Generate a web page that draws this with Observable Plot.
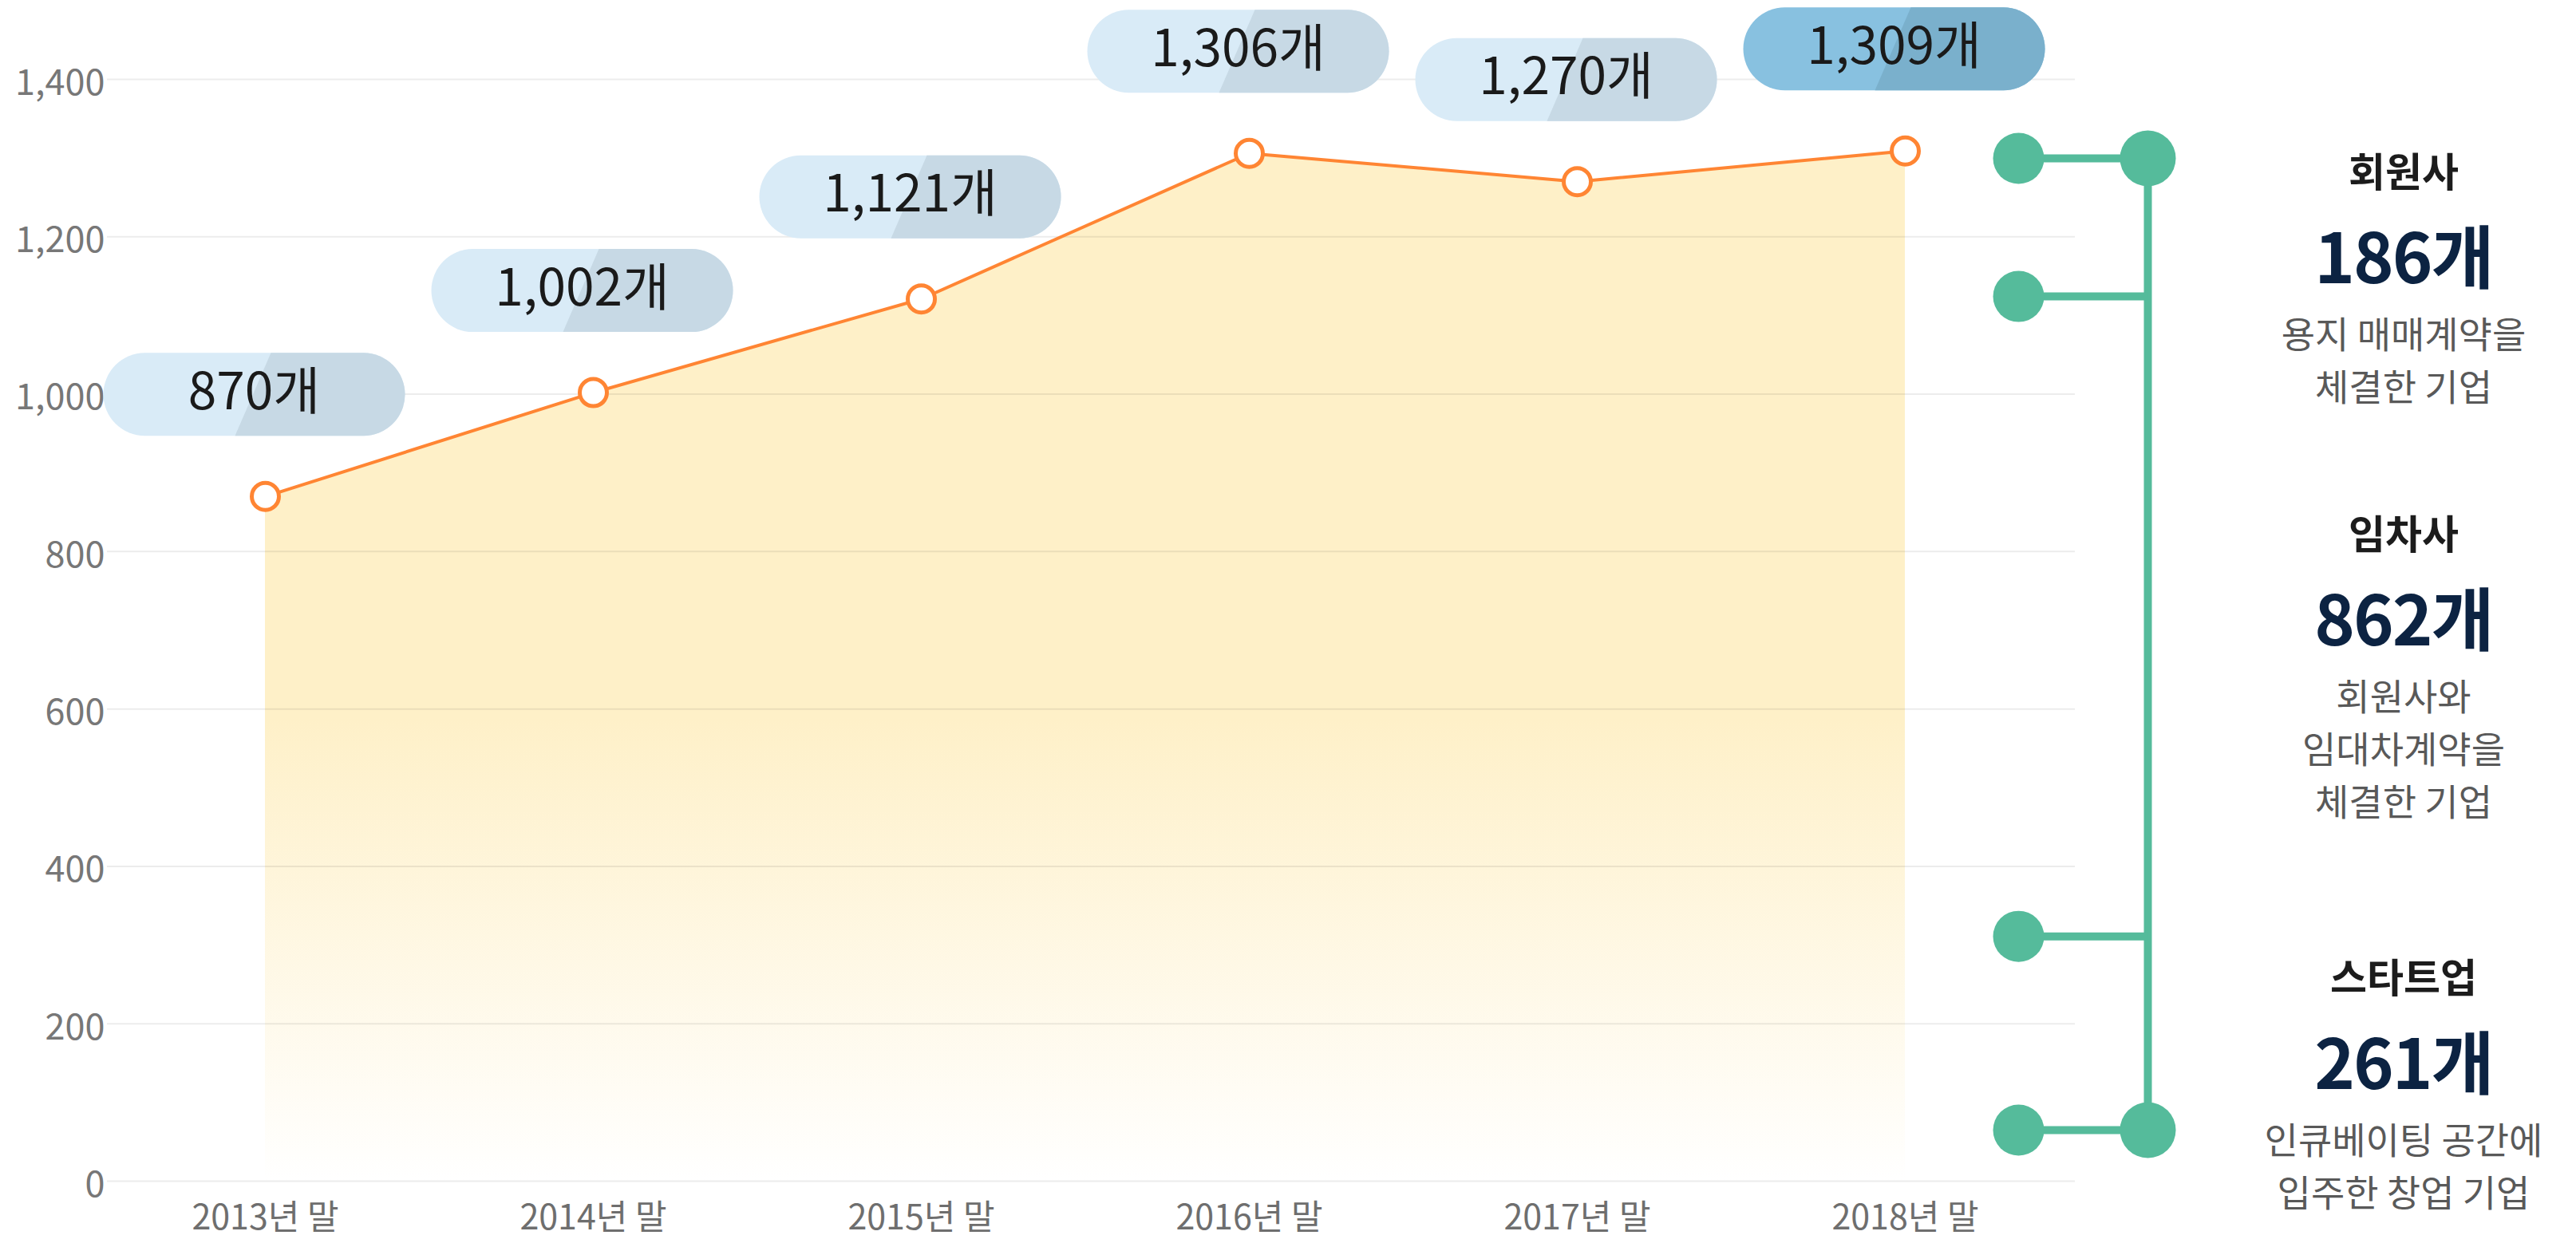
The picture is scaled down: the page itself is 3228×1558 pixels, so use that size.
<!DOCTYPE html>
<html><head><meta charset="utf-8">
<script src="https://cdn.jsdelivr.net/npm/d3@7"></script>
<script src="https://cdn.jsdelivr.net/npm/@observablehq/plot@0.6"></script>
<style>
html,body{margin:0;padding:0;background:#fff;}
#wrap{position:relative;width:3228px;height:1558px;font-family:"Noto Sans CJK KR","Noto Sans",sans-serif;overflow:hidden;}
#wrap svg{position:absolute;left:0;top:0;}
.blk{position:absolute;left:2812px;width:400px;text-align:center;transform:translateY(-50%);}
.t{font-size:50px;font-weight:700;color:#1c1c1c;line-height:82px;}
.n{font-size:86px;font-weight:700;color:#0c2342;line-height:130px;letter-spacing:-2px;}
.d{font-size:46px;color:#595959;line-height:66px;}
</style></head><body><div id="wrap"></div>
<script>
// ---- data ----
const years = ["2013년 말","2014년 말","2015년 말","2016년 말","2017년 말","2018년 말"];
const counts = [870, 1002, 1121, 1306, 1270, 1309];
const yTicks = [0, 200, 400, 600, 800, 1000, 1200, 1400];
const highlightYear = "2018년 말";
const segmentNames = ["회원사", "임차사", "스타트업"];
const segmentValues = [186, 862, 261];
const segmentDescs = [["용지 매매계약을", "체결한 기업"], ["회원사와", "임대차계약을", "체결한 기업"], ["인큐베이팅 공간에", "입주한 창업 기업"]];

// ---- build ----
const data = years.map((year, i) => ({year, count: counts[i]}));
const fmt = d3.format(",");
const ORANGE = "#ff8533", GREEN = "#55bb9b";
const FONT = '"Noto Sans CJK KR","Noto Sans",sans-serif';

const PW = 378, PH = 104;
const pillFull = {draw(ctx) {
  const w = PW / 2, h = PH / 2;
  ctx.moveTo(-w + h, -h); ctx.lineTo(w - h, -h);
  ctx.arc(w - h, 0, h, -Math.PI / 2, Math.PI / 2);
  ctx.lineTo(-w + h, h);
  ctx.arc(-w + h, 0, h, Math.PI / 2, 3 * Math.PI / 2);
  ctx.closePath();
}};
const pillRight = {draw(ctx) {
  const w = PW / 2, h = PH / 2;
  ctx.moveTo(21, -h); ctx.lineTo(w - h, -h);
  ctx.arc(w - h, 0, h, -Math.PI / 2, Math.PI / 2);
  ctx.lineTo(-24, h);
  ctx.closePath();
}};
const isHi = d => d.year === highlightYear;
const notHi = d => d.year !== highlightYear;
const PDY = -128, PDX = -14;

const main = Plot.plot({
  width: 3228, height: 1558,
  marginLeft: 134, marginRight: 628, marginTop: 99, marginBottom: 78,
  x: {type: "point", domain: years, padding: 0, insetLeft: 196, insetRight: 212},
  y: {domain: [0, 1400]},
  style: {fontFamily: FONT, background: "transparent", maxWidth: "none", overflow: "visible"},
  marks: [
    Plot.areaY(data, {x: "year", y: "count", fill: "url(#areaFill)"}),
    Plot.gridY(yTicks, {stroke: "#000", strokeOpacity: 0.075, strokeWidth: 2}),
    Plot.axisY(yTicks, {tickSize: 0, tickPadding: 3, tickFormat: fmt, fontSize: 45, color: "#777", label: null, dy: 5}),
    Plot.axisX({tickSize: 0, tickPadding: 30, fontSize: 43, color: "#6e6e6e", label: null}),
    Plot.lineY(data, {x: "year", y: "count", stroke: ORANGE, strokeWidth: 4}),
    Plot.dot(data, {x: "year", y: "count", r: 17, fill: "#fff", stroke: ORANGE, strokeWidth: 5}),
    Plot.dot(data, {filter: notHi, x: "year", y: "count", symbol: pillFull, r: 10, fill: "#d9ebf7", dx: PDX, dy: PDY}),
    Plot.dot(data, {filter: notHi, x: "year", y: "count", symbol: pillRight, r: 10, fill: "#c7d9e5", dx: PDX, dy: PDY}),
    Plot.dot(data, {filter: isHi, x: "year", y: "count", symbol: pillFull, r: 10, fill: "#88c1e0", dx: PDX, dy: PDY}),
    Plot.dot(data, {filter: isHi, x: "year", y: "count", symbol: pillRight, r: 10, fill: "#7ab0cc", dx: PDX, dy: PDY}),
    Plot.text(data, {x: "year", y: "count", text: d => fmt(d.count) + "개", fontSize: 64, fill: "#1a1a1a", dx: PDX, dy: PDY - 2, fontFamily: FONT})
  ]
});
main.insertAdjacentHTML("afterbegin",
  '<defs><linearGradient id="areaFill" x1="0" y1="0" x2="0" y2="1">' +
  '<stop offset="0" stop-color="#fef0c8"/><stop offset="0.55" stop-color="#fef0c8"/>' +
  '<stop offset="1" stop-color="#ffffff"/></linearGradient></defs>');

// bracket
const total = d3.sum(segmentValues);
const tops = segmentValues.map((v, i) => total - d3.sum(segmentValues.slice(0, i)));
const breaks = [...tops, 0];
const bracket = Plot.plot({
  width: 3228, height: 1558,
  x: {type: "point", domain: ["stub", "spine"], range: [2529, 2691], padding: 0},
  y: {domain: [0, total], range: [1416, 198]},
  axis: null,
  style: {background: "transparent", maxWidth: "none", overflow: "visible"},
  marks: [
    Plot.ruleX(["spine"], {y1: 0, y2: total, stroke: GREEN, strokeWidth: 10}),
    Plot.link(breaks, {x1: () => "stub", x2: () => "spine", y1: d => d, y2: d => d, stroke: GREEN, strokeWidth: 10}),
    Plot.dot(breaks, {x: () => "stub", y: d => d, r: 32, fill: GREEN}),
    Plot.dot([0, total], {x: () => "spine", y: d => d, r: 35, fill: GREEN})
  ]
});

const wrap = document.getElementById("wrap");
wrap.append(main, bracket);
const ys = bracket.scale("y");
segmentNames.forEach((name, i) => {
  const mid = tops[i] - segmentValues[i] / 2;
  const blk = document.createElement("div");
  blk.className = "blk";
  blk.style.top = (ys.apply(mid) + 58) + "px";
  blk.innerHTML = `<div class="t">${name}</div><div class="n">${fmt(segmentValues[i])}개</div>` +
    segmentDescs[i].map(s => `<div class="d">${s}</div>`).join("");
  wrap.append(blk);
});
</script></body></html>
